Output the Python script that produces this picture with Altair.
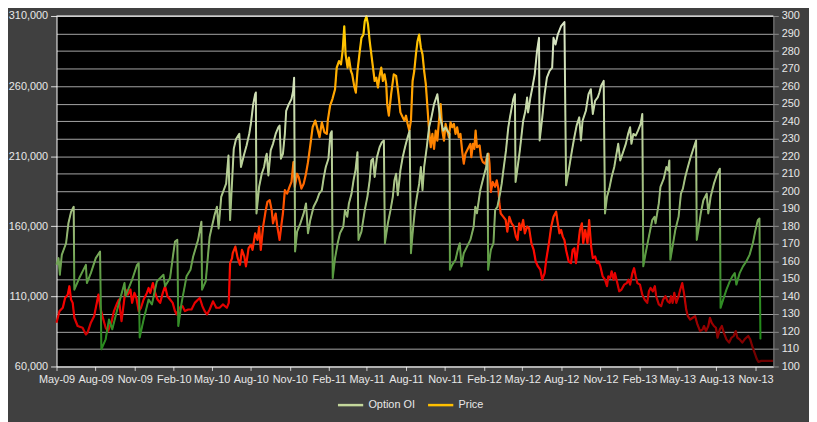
import altair as alt
import pandas as pd

# ---------------- data ----------------
# days after 1 May 2009, Option OI in thousands
oi_days = [0, 4.7, 7.8, 12.4, 22.5, 28.0, 34.2, 40.4, 42.0, 53.6, 69.1, 71.5, 80.8, 92.4, 102.5,
           105.6, 115.7, 123.5, 131.3, 142.9, 160.0, 162.3, 177.9, 189.5, 193.4, 195.7, 205.0,
           216.7, 224.5, 236.1, 251.7, 255.5, 267.2, 273.4, 278.8, 284.3, 286.6, 294.4, 306.0,
           315.3, 321.6, 333.2, 341.0, 342.5, 351.1, 360.4, 366.6, 372.0, 377.5, 381.4, 387.6,
           399.2, 404.7, 408.5, 417.1,
           422.5, 430.2, 434.1, 441.9, 447.3, 453.5, 457.4, 462.9, 467.5, 469.1, 470.6, 476.8,
           483.0, 488.5, 492.4, 494.7, 498.6, 504.0, 509.5, 515.7, 521.9, 525.0, 528.1, 532.8,
           537.4, 540.5, 546.7, 552.9, 556.8, 559.2, 561.5, 566.2, 573.9, 581.7, 587.1, 591.8,
           597.2, 605.0, 612.8, 618.2, 624.4, 629.1, 633.7, 639.9, 644.6, 647.7, 650.0, 655.5,
           661.7, 667.1, 674.9, 678.8, 684.2, 688.1, 694.3, 699.0, 703.6, 708.3, 710.6, 717.6,
           725.4, 731.6, 737.0, 740.9, 744.8, 748.7, 754.1, 760.3, 765.8, 770.4, 772.8, 779.8,
           786.0, 791.4, 795.3, 799.2, 803.1, 809.3, 814.7, 820.1, 826.3, 831.0, 834.1,
           838.0, 843.4, 848.1, 853.5, 857.4, 861.3, 865.2, 871.4, 876.8, 882.3, 888.5, 896.2,
           902.4, 910.2, 915.7, 919.5, 925.0, 925.8, 931.2, 939.0, 944.4, 949.1, 953.0, 958.4,
           966.1, 973.9, 981.7, 985.6, 989.4, 997.2, 1005.0, 1011.2, 1014.3, 1015.8, 1022.1,
           1028.3, 1032.2, 1037.6, 1043.8, 1047.7, 1051.6, 1057.8, 1063.2, 1067.1, 1074.9,
           1078.8, 1080.3, 1084.2, 1090.4, 1098.2, 1103.6, 1107.5, 1109.8, 1115.3, 1119.9,
           1125.4, 1130.8, 1135.5, 1137.0, 1143.2, 1148.7, 1154.1, 1160.3, 1166.5, 1169.6,
           1174.3, 1179.7, 1187.5, 1195.3, 1199.2, 1205.4, 1213.1, 1218.6, 1224.0, 1230.2,
           1234.1, 1238.0, 1245.8, 1252.0, 1257.4,
           1262.1, 1267.5, 1273.7, 1277.6, 1281.5, 1287.7, 1290.8, 1295.5, 1300.9, 1306.4,
           1312.6, 1316.5, 1321.9, 1326.6, 1332.0, 1339.8, 1345.2, 1349.9, 1353.0, 1357.6,
           1363.1, 1368.5, 1374.7, 1378.6, 1380.9, 1386.4, 1394.1, 1401.9, 1407.3, 1409.7,
           1417.4, 1421.3, 1429.1, 1435.3, 1439.2, 1442.3, 1444.6, 1448.5, 1456.3, 1464.0,
           1469.5, 1474.1, 1479.6, 1485.8, 1491.2, 1497.4, 1505.2, 1506.7, 1510.6, 1516.1,
           1522.3, 1530.1, 1533.9, 1539.4, 1547.1, 1554.9, 1561.1, 1562.7, 1568.9, 1576.6,
           1584.4, 1590.6, 1596.1, 1600.0, 1607.7, 1615.5, 1623.2, 1631.0, 1638.8, 1645.0,
           1650.4, 1654.3, 1656.6]
oi_thousands = [132.5, 137.3, 125.4, 139.6, 147.9, 162.1, 170.3, 173.9, 114.8, 123.1, 132.5, 119.5,
                126.6, 137.3, 142.0, 72.3, 79.4, 93.5, 86.5, 100.6, 119.5, 110.1, 121.9, 132.5,
                133.7, 80.6, 93.5, 107.7, 104.2, 120.7, 125.4, 117.2, 123.1, 137.3, 149.1, 150.3,
                88.8, 105.4, 124.3, 129.0, 138.4, 150.3, 163.3, 114.8, 120.7, 152.6, 160.9, 168.0,
                173.9, 158.5, 181.0, 190.4, 210.5, 164.4, 215.2,
                222.3, 225.9, 202.3, 211.7, 217.6, 225.9, 233.0, 247.1, 254.2, 255.4, 169.2, 188.1,
                197.5, 202.3, 209.3, 211.7, 196.3, 214.1, 218.8, 225.9, 230.6, 231.8, 208.2, 211.7,
                225.9, 242.4, 247.1, 250.7, 256.6, 266.0, 142.0, 156.2, 162.1, 169.2, 176.3, 155.0,
                164.4, 173.9, 178.6, 183.3, 185.7, 195.2, 202.3, 208.2, 225.9, 227.8, 123.1, 137.3,
                147.9, 155.0, 159.7, 171.5, 166.8, 176.3, 183.3, 192.8, 199.9, 212.9, 150.3, 156.2,
                171.5, 181.0, 192.8, 207.0, 208.2, 195.2, 209.3, 216.4, 220.0, 221.2, 147.9, 162.1,
                171.5, 181.0, 192.8, 197.5, 182.2, 199.9, 209.3, 216.4, 223.5, 228.2, 140.8,
                155.0, 171.5, 181.0, 190.4, 202.3, 185.7, 202.3, 216.4, 230.6, 237.7, 247.1, 254.2,
                237.7, 228.2, 230.6, 228.2, 225.9, 129.0, 132.5, 136.1, 143.2, 147.9, 131.4, 140.8,
                145.5, 150.3, 159.7, 173.9, 169.2, 185.7, 195.2, 202.3, 211.7, 129.0, 143.2,
                147.9, 171.5, 173.9, 183.3, 190.4, 199.9, 214.1, 230.6, 237.7, 250.7,
                254.2, 191.6, 199.9, 214.1, 235.3, 242.4, 251.9, 241.2, 251.9, 259.0,
                268.4, 285.0, 294.4, 221.2, 237.7, 254.2, 266.0, 270.8, 273.1, 294.4,
                289.7, 296.8, 302.7, 305.7, 189.2, 199.9, 214.1, 223.5, 231.8, 237.7,
                221.2, 235.3, 242.4, 254.2, 257.8,
                240.1, 249.5, 251.9, 255.4, 260.1, 263.7, 169.2, 181.0, 186.9, 195.2,
                202.3, 209.3, 218.8, 207.0, 211.7, 218.8, 225.9, 230.6, 218.8, 225.9,
                224.7, 228.2, 233.0, 240.1, 131.4, 140.8, 152.6, 164.4, 166.8, 162.1,
                176.3, 188.1, 194.0, 202.3, 199.9, 207.0, 136.1, 143.2, 157.4, 166.8,
                183.3, 186.9, 195.2, 202.3, 208.2, 214.1, 221.2, 150.3, 157.4, 169.2,
                178.6, 183.3, 169.2, 181.0, 190.4, 197.5, 201.1, 101.8, 107.7, 114.8,
                120.7, 124.3, 126.6, 118.4, 126.6, 131.4, 134.9, 139.6, 147.9, 157.4,
                164.4, 165.6, 79.4]

# days after 1 May 2009, Price
price_days = [0, 7.0, 14.8, 20.2, 26.4, 30.3, 34.2, 38.1, 42.0, 49.7, 61.4, 69.1, 73.0, 80.8, 88.5,
              94.8, 98.6, 104.1, 110.3, 115.7, 121.2, 129.0, 135.2, 142.9, 146.8, 153.0, 158.4,
              162.3, 167.8, 174.0, 177.9, 183.3, 188.0, 193.4, 198.8, 205.0, 212.8, 216.7, 220.6,
              226.8, 232.2, 237.7, 243.9, 250.1, 255.5, 261.0, 267.2, 273.4, 278.8, 282.7, 288.9,
              296.7, 302.1, 309.9, 317.7, 325.4, 333.2, 337.1, 343.3, 348.7, 354.2, 360.4, 368.2,
              375.9, 383.7, 391.5, 400.8, 405.4, 408.5, 413.2,
              414.7, 420.9, 426.4, 431.8, 436.4, 441.9, 445.8, 452.0, 457.4, 461.3, 467.5, 473.0,
              476.8, 480.7, 486.2, 492.4, 496.3, 501.7, 506.4, 509.5, 515.7, 519.6, 525.0, 529.7,
              532.8, 537.4, 542.9, 548.3, 553.0, 557.6, 560.7, 566.2, 570.0, 576.3, 581.7, 587.1,
              591.8, 597.2, 602.7, 608.9, 615.1, 619.0, 624.4, 630.6, 636.1, 638.4, 643.8, 649.3,
              655.5, 659.4, 664.8, 669.5, 673.3, 677.2, 680.3, 685.0, 688.1, 692.8, 695.9, 700.5,
              704.4, 708.3, 713.7, 717.6, 722.3, 725.4, 729.3, 733.1, 737.0, 740.9, 744.8, 748.7,
              752.6, 756.4, 760.3, 764.2, 768.1, 772.0, 775.9, 778.2, 782.1, 787.5, 793.7, 799.2,
              804.6, 809.3, 814.7, 818.6, 822.5, 826.3, 830.2, 834.1,
              838.0, 841.9, 845.8, 849.6, 853.5, 857.4, 861.3, 865.2, 869.1, 872.9, 876.8, 880.7,
              884.6, 888.5, 892.4, 896.2, 900.1, 904.0, 907.9, 911.8, 915.7, 919.5, 923.4, 927.3,
              931.2, 935.1, 939.0, 942.8, 946.7, 950.6, 954.5, 958.4, 962.3, 966.1, 973.9,
              976.2, 980.1, 983.2, 986.3, 989.4, 995.7, 998.8, 1003.4, 1008.9, 1012.7, 1016.6,
              1019.0, 1022.1, 1026.7, 1032.2, 1036.0, 1039.9, 1042.3, 1045.4, 1051.6, 1057.0,
              1060.9, 1065.6, 1071.0, 1076.4, 1081.1, 1085.0, 1088.9, 1092.7, 1098.2, 1102.1,
              1107.5, 1112.2, 1117.6, 1123.0, 1127.7, 1133.1, 1138.6, 1143.2, 1148.7, 1152.5,
              1158.8, 1164.2, 1169.6, 1175.8, 1179.7, 1183.6, 1187.5, 1191.4, 1195.3, 1199.2,
              1205.4, 1210.8, 1214.7, 1218.6, 1222.5, 1226.3, 1231.8, 1236.4, 1239.5, 1244.2,
              1249.6, 1253.5,
              1258.2, 1262.1, 1267.5, 1272.2, 1275.3, 1279.9, 1285.4, 1290.8, 1295.5, 1298.6,
              1303.2, 1306.4, 1311.0, 1314.1, 1318.8, 1324.2, 1329.7, 1335.9, 1342.1, 1346.0,
              1349.9, 1355.3, 1359.2, 1363.1, 1367.0, 1373.2, 1378.6, 1384.0, 1390.2, 1394.1,
              1398.0, 1403.4, 1408.1, 1411.2, 1417.4, 1422.9, 1427.5, 1433.0, 1438.4, 1443.1,
              1446.2, 1450.0, 1453.9, 1458.6, 1464.0, 1467.9, 1472.6, 1477.2, 1481.9, 1485.8,
              1491.2, 1497.4, 1502.9, 1508.3, 1514.5, 1520.7, 1523.8, 1528.5, 1533.9, 1537.8,
              1541.7, 1547.1, 1551.8, 1555.7, 1561.1, 1565.8, 1570.4, 1576.6, 1582.9, 1588.3,
              1593.7, 1598.4, 1602.3, 1607.7, 1613.9, 1619.4, 1623.2, 1627.9, 1632.6, 1637.2,
              1642.7, 1648.1, 1652.0, 1658.2, 1686.2]
price_values = [125.0, 131.6, 133.5, 139.1, 141.0, 145.8, 138.2, 136.3, 127.8, 123.1, 122.1, 118.3,
                119.3, 125.0, 128.7, 136.3, 141.0, 132.5, 126.8, 122.1, 120.2, 125.0, 131.6, 136.3,
                138.2, 125.9, 136.3, 143.9, 141.0, 143.9, 136.3, 142.0, 139.1, 131.6, 133.5, 138.2,
                142.0, 144.8, 142.0, 147.6, 142.0, 138.2, 136.3, 142.0, 145.8, 140.1, 138.2, 136.3,
                131.6, 129.7, 133.5, 134.4, 131.6, 132.5, 132.5, 136.3, 138.2, 139.1, 134.4, 131.6,
                129.7, 132.5, 137.2, 133.5, 133.5, 135.4, 133.5, 136.3, 159.0, 161.8,
                164.7, 168.4, 161.8, 158.0, 166.5, 162.8, 157.1, 167.5, 169.4, 166.5, 176.0, 172.2,
                179.8, 166.5, 179.8, 189.2, 193.9, 194.9, 189.2, 181.7, 187.3, 179.8, 172.2, 181.7,
                187.3, 200.6, 198.7, 202.5, 205.3, 216.6, 202.5, 210.0, 208.1, 201.5, 204.3, 210.0,
                216.6, 226.1, 236.5, 240.3, 234.6, 230.8, 239.3, 233.6, 232.7, 240.3, 248.8, 252.6,
                258.2, 270.5, 274.3, 272.4, 280.0, 294.1, 278.1, 270.5, 276.2, 268.6, 266.7, 260.1,
                256.3, 268.6, 280.0, 287.5, 289.4, 297.0, 299.8, 295.1, 285.6, 278.1, 270.5, 262.9,
                264.8, 259.2, 265.8, 270.5, 262.9, 266.7, 261.1, 249.7, 243.1, 255.4, 266.7, 265.8,
                255.4, 245.0, 242.2, 240.3, 243.1, 238.4, 234.6, 240.3,
                262.9, 268.6, 278.1, 285.6, 289.4, 281.9, 278.1, 268.6, 261.1, 247.9, 234.6, 225.1,
                232.7, 224.1, 234.6, 228.9, 240.3, 249.7, 234.6, 228.9, 238.4, 234.6, 230.8, 239.3,
                236.5, 238.4, 232.7, 236.5, 230.8, 232.7, 223.2, 215.7, 221.4, 223.2, 227.0,
                219.5, 227.0, 224.2, 234.6, 225.1, 226.1, 219.5, 216.6, 215.7, 219.5, 221.4,
                215.7, 199.6, 205.3, 202.5, 206.2, 201.5, 193.0, 187.3, 185.4, 183.6,
                176.9, 185.4, 181.7, 179.8, 174.1, 172.2, 181.7, 177.9, 183.6, 176.0,
                179.8, 178.8, 170.3, 166.5, 159.9, 157.1, 155.2, 149.5, 153.3, 160.9,
                170.3, 179.8, 185.4, 188.3, 181.7, 176.0, 177.9, 174.1, 172.2, 166.5,
                159.9, 159.0, 166.5, 167.5, 159.0, 166.5, 177.9, 181.7, 170.3, 177.9,
                170.3, 183.6,
                168.4, 161.8, 162.8, 159.0, 160.0, 157.1, 151.4, 149.5, 145.8, 151.4,
                150.5, 154.3, 149.5, 153.3, 148.6, 142.9, 143.9, 146.7, 147.6, 149.5,
                146.7, 153.3, 156.1, 151.4, 147.6, 146.7, 141.0, 138.2, 136.3, 142.9,
                144.8, 142.9, 145.8, 140.1, 135.4, 134.4, 138.2, 140.1, 137.2, 136.3,
                140.1, 136.3, 142.0, 136.3, 140.1, 143.9, 147.6, 141.0, 132.5, 128.7,
                126.8, 127.8, 128.7, 124.0, 120.2, 121.2, 123.1, 120.2, 123.1, 127.8,
                125.0, 123.1, 122.1, 116.4, 121.2, 123.1, 119.3, 115.5, 113.6, 116.4,
                117.4, 120.2, 116.4, 115.5, 113.6, 115.5, 116.4, 117.4, 115.5, 111.7,
                107.9, 104.2, 102.6, 103.2, 103.2]

series_names = ["Option OI", "Price"]
series_colors = ["#c4d79b", "#ffc000"]
oi_ticks = [60000, 110000, 160000, 210000, 260000, 310000]
price_ticks = list(range(100, 301, 10))
x_tick_months = [(2009, 5), (2009, 8), (2009, 11), (2010, 2), (2010, 5), (2010, 8), (2010, 11),
                 (2011, 2), (2011, 5), (2011, 8), (2011, 11), (2012, 2), (2012, 5), (2012, 8),
                 (2012, 11), (2013, 2), (2013, 5), (2013, 8), (2013, 11)]

# ---------------- frames ----------------
start = pd.Timestamp("2009-05-01")
oi_df = pd.DataFrame({
    "date": start + pd.to_timedelta(oi_days, unit="D"),
    "oi": [v * 1000 for v in oi_thousands],
    "series": series_names[0],
})
price_df = pd.DataFrame({
    "date": start + pd.to_timedelta(price_days, unit="D"),
    "price": price_values,
    "series": series_names[1],
})
top_df = pd.DataFrame({"price": [300]})

FONT = "Liberation Sans"
LABEL = "#e8e8e8"

x_enc = alt.X(
    "date:T",
    scale=alt.Scale(domain=[alt.DateTime(year=2009, month=5, date=1),
                            alt.DateTime(year=2013, month=12, date=13)]),
    axis=alt.Axis(values=[alt.DateTime(year=y, month=m, date=1) for y, m in x_tick_months],
                  format="%b-%y", labelAngle=0, title=None, grid=False, labelOverlap=False,
                  labelFlush=False,
                  domainColor="#ffffff", tickColor="#d0d0d0", tickSize=4,
                  labelPadding=3, labelColor=LABEL, labelFontSize=11, labelFont=FONT),
)

color_enc = alt.Color(
    "series:N",
    scale=alt.Scale(domain=series_names, range=series_colors),
    legend=alt.Legend(title=None, orient="none", legendX=283, legendY=379,
                      direction="horizontal", symbolType="stroke", symbolSize=650,
                      symbolStrokeWidth=2.5, labelColor=LABEL, labelFontSize=11,
                      labelFont=FONT, columnPadding=7, labelOffset=4, padding=0),
)

price_y = alt.Y("price:Q",
                scale=alt.Scale(domain=[100, 300], nice=False),
                axis=alt.Axis(orient="right", values=price_ticks, title=None, grid=True,
                              gridColor="#a6a6a6", gridWidth=1, domainColor="#8c8c8c",
                              tickColor="#8c8c8c", tickSize=5, labelPadding=3,
                              labelColor=LABEL, labelFontSize=11, labelFont=FONT))
oi_y = alt.Y("oi:Q",
             scale=alt.Scale(domain=[60000, 310000], nice=False),
             axis=alt.Axis(orient="left", values=oi_ticks, title=None, grid=False,
                           labelExpr="format(datum.value, ',')",
                           domainColor="#ffffff", tickColor="#e0e0e0", tickSize=6,
                           labelPadding=3, labelColor=LABEL, labelFontSize=11, labelFont=FONT))

price_gradient = alt.LinearGradient(
    gradient="linear", x1=1, y1=1, x2=0.831, y2=-0.125,
    stops=[alt.GradientStop(offset=0.0, color="#6a0000"),
           alt.GradientStop(offset=0.1, color="#960000"),
           alt.GradientStop(offset=0.2, color="#d00000"),
           alt.GradientStop(offset=0.3, color="#ff0000"),
           alt.GradientStop(offset=0.4, color="#ff2a00"),
           alt.GradientStop(offset=0.5, color="#ff5a00"),
           alt.GradientStop(offset=0.65, color="#ff9000"),
           alt.GradientStop(offset=0.8, color="#ffb000"),
           alt.GradientStop(offset=0.95, color="#ffd400"),
           alt.GradientStop(offset=1.0, color="#ffe000")])

oi_gradient = alt.LinearGradient(
    gradient="linear", x1=1, y1=1, x2=0.891, y2=-0.089,
    stops=[alt.GradientStop(offset=0.0, color="#168c12"),
           alt.GradientStop(offset=0.08, color="#268a1c"),
           alt.GradientStop(offset=0.19, color="#3a8f2c"),
           alt.GradientStop(offset=0.31, color="#66a04a"),
           alt.GradientStop(offset=0.42, color="#98b876"),
           alt.GradientStop(offset=0.58, color="#b9d098"),
           alt.GradientStop(offset=0.77, color="#cedeb4"),
           alt.GradientStop(offset=1.0, color="#e0ead0")])

price_key = alt.Chart(price_df).mark_line(strokeWidth=0.5).encode(
    x=x_enc, y=price_y, color=color_enc)
price_line = alt.Chart(price_df).mark_line(strokeWidth=2.2, color=price_gradient,
                                           strokeJoin="round").encode(x=x_enc, y=price_y)
top_rule = alt.Chart(top_df).mark_rule(color="#ffffff", strokeWidth=1).encode(y=price_y)

oi_key = alt.Chart(oi_df).mark_line(strokeWidth=0.5).encode(
    x=x_enc, y=oi_y, color=color_enc)
oi_line = alt.Chart(oi_df).mark_line(strokeWidth=2.0, color=oi_gradient,
                                     strokeJoin="round").encode(x=x_enc, y=oi_y)

price_layer = alt.layer(price_key, price_line, top_rule)
oi_layer = alt.layer(oi_key, oi_line)

chart = alt.layer(price_layer, oi_layer).resolve_scale(y="independent").properties(
    width=724, height=354,
    padding={"left": 49, "top": 6, "right": 36, "bottom": 54},
    autosize=alt.AutoSizeParams(type="none"),
    background="#404040",
).configure_view(fill="#000000", stroke="transparent")

chart.save("out.html", embed_options={"renderer": "svg", "actions": False})
